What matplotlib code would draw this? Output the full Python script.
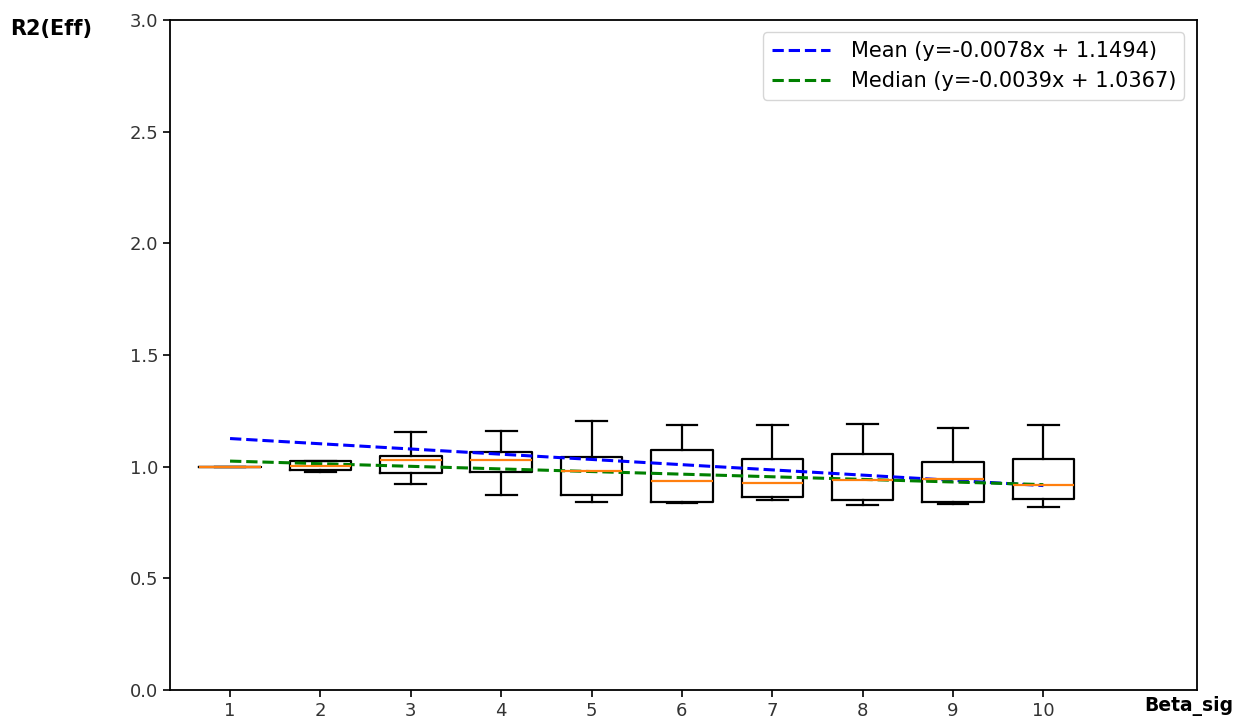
import matplotlib
matplotlib.use('Agg')
import matplotlib.pyplot as plt
import numpy as np

# category positions (Beta_sig index) and the beta value used for the fit
categories = [1, 2, 3, 4, 5, 6, 7, 8, 9, 10]
beta_values = [3, 6, 9, 12, 15, 18, 21, 24, 27, 30]

# box plot stats
whislo = [1.000, 0.975, 0.921, 0.873, 0.842, 0.836, 0.851, 0.828, 0.831, 0.821]
q1 = [1.000, 0.983, 0.972, 0.975, 0.873, 0.842, 0.864, 0.849, 0.843, 0.855]
med = [1.000, 1.004, 1.030, 1.028, 0.979, 0.934, 0.927, 0.940, 0.945, 0.919]
q3 = [1.000, 1.027, 1.049, 1.064, 1.042, 1.075, 1.036, 1.057, 1.022, 1.034]
whishi = [1.000, 1.027, 1.154, 1.160, 1.206, 1.187, 1.187, 1.193, 1.172, 1.185]

# trend lines from the legend
mean_slope, mean_intercept = -0.0078, 1.1494
median_slope, median_intercept = -0.0039, 1.0367

stats = []
for i in range(len(categories)):
    stats.append({'whislo': whislo[i], 'q1': q1[i], 'med': med[i],
                  'q3': q3[i], 'whishi': whishi[i], 'fliers': []})

fig = plt.figure(figsize=(12.53, 7.22), dpi=100)
ax = fig.add_axes([0.1357, 0.0443, 0.8196, 0.928])

ax.bxp(stats, positions=categories, widths=0.68,
       boxprops=dict(linewidth=1.6),
       whiskerprops=dict(linewidth=1.6),
       capprops=dict(linewidth=1.6),
       medianprops=dict(color='#ff7f0e', linewidth=1.6))

b = np.array(beta_values)
ax.plot(categories, mean_slope * b + mean_intercept, '--', color='blue', linewidth=2.2,
        label=f'Mean (y={mean_slope}x + {mean_intercept})')
ax.plot(categories, median_slope * b + median_intercept, '--', color='green', linewidth=2.2,
        label=f'Median (y={median_slope}x + {median_intercept})')

ax.set_xlim(0.336, 11.70)
ax.set_ylim(0, 3.0)
ax.set_yticks([0, 0.5, 1.0, 1.5, 2.0, 2.5, 3.0])
ax.set_xticks(categories)
ax.tick_params(labelsize=13, labelcolor='#333333', width=1.2, length=5)
for s in ax.spines.values():
    s.set_linewidth(1.3)

ax.legend(loc='upper right', fontsize=15, handlelength=2.8, handletextpad=1.0,
          borderaxespad=0.6)

fig.text(0.008, 0.96, 'R2(Eff)', fontsize=15, fontweight='bold', ha='left', va='center')
fig.text(0.913, 0.022, 'Beta_sig', fontsize=13.5, fontweight='bold', ha='left', va='center')

fig.savefig('out.png', dpi=100)
